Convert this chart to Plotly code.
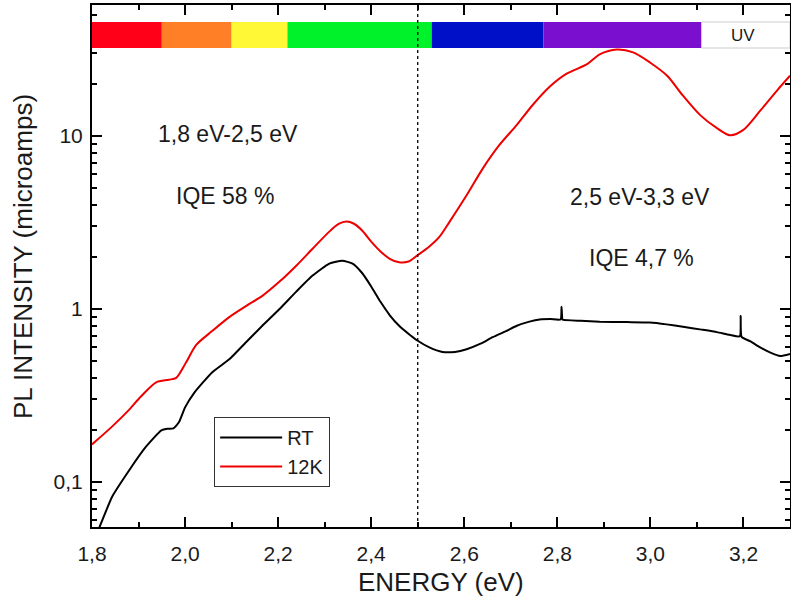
import plotly.graph_objects as go

# ---------------- data ----------------
energy_12k = [1.80, 1.843, 1.88, 1.905, 1.938, 1.965, 1.981, 2.002, 2.024, 2.058, 2.095, 2.131,
              2.166, 2.203, 2.239, 2.274, 2.31, 2.33, 2.347, 2.362, 2.38, 2.40, 2.42, 2.44,
              2.46, 2.48, 2.50, 2.525, 2.547, 2.569, 2.605, 2.64, 2.676, 2.713, 2.747, 2.784,
              2.82, 2.864, 2.891, 2.928, 2.963, 2.999, 3.036, 3.07, 3.107, 3.143, 3.171, 3.199,
              3.236, 3.272, 3.30]
pl_12k = [0.165, 0.209, 0.262, 0.312, 0.377, 0.39, 0.40, 0.49, 0.62, 0.745, 0.898, 1.04,
          1.19, 1.44, 1.78, 2.23, 2.80, 3.1, 3.2, 3.12, 2.85, 2.45, 2.15, 1.95,
          1.86, 1.88, 2.05, 2.3, 2.62, 3.21, 4.54, 6.5, 8.9, 11.6, 15.1, 19.3,
          22.9, 26.0, 29.6, 31.6, 30.4, 26.6, 22.3, 17.1, 13.2, 11.1, 10.1, 10.8,
          14.0, 18.3, 22.3]

energy_rt = [1.80, 1.815, 1.843, 1.88, 1.916, 1.949, 1.962, 1.975, 1.987, 2.0, 2.02, 2.058,
             2.095, 2.131, 2.166, 2.203, 2.239, 2.274, 2.31, 2.338, 2.36, 2.38, 2.40, 2.42,
             2.44, 2.46, 2.48, 2.50, 2.525, 2.553, 2.58, 2.605, 2.635, 2.661, 2.69, 2.713,
             2.74, 2.762, 2.785, 2.807, 2.809, 2.811, 2.813, 2.85, 2.891, 2.95, 2.999, 3.035,
             3.07, 3.11, 3.143, 3.17, 3.192, 3.194, 3.196, 3.215, 3.236, 3.258, 3.279, 3.30]
pl_rt = [0.045, 0.054, 0.082, 0.117, 0.160, 0.199, 0.203, 0.204, 0.222, 0.27, 0.329, 0.43,
         0.512, 0.643, 0.80, 1.0, 1.26, 1.56, 1.83, 1.90, 1.83, 1.62, 1.35, 1.10,
         0.92, 0.80, 0.72, 0.655, 0.60, 0.565, 0.565, 0.585, 0.63, 0.687, 0.745, 0.80,
         0.845, 0.87, 0.875, 0.87, 1.03, 0.87, 0.865, 0.855, 0.845, 0.84, 0.835, 0.815,
         0.79, 0.76, 0.735, 0.71, 0.695, 0.91, 0.69, 0.65, 0.60, 0.56, 0.535, 0.55]

band_edges = [1.80, 1.95, 2.10, 2.22, 2.53, 2.77, 3.11, 3.30]
band_colors = ["#FF0018", "#FF7F27", "#FFF836", "#00F22A", "#0010C8", "#7A0FD0", "#FFFFFF"]
band_labels = ["", "", "", "", "", "", "UV"]

x_ticks = [1.8, 2.0, 2.2, 2.4, 2.6, 2.8, 3.0, 3.2]
y_ticks = [0.1, 1, 10]
y_ticktext = ["0,1", "1", "10"]
y_minor_ticks = [m * 10 ** d for d in (-2, -1, 0, 1) for m in range(2, 10)]

divider_energy = 2.5

# ---------------- figure ----------------
FONT = "Liberation Sans, Arial, sans-serif"
TXT = "#1a1a1a"
fig = go.Figure()
fig.add_trace(go.Scatter(x=energy_rt, y=pl_rt, mode="lines", name="RT",
                         line=dict(color="black", width=2, shape="spline", smoothing=0.5)))
fig.add_trace(go.Scatter(x=energy_12k, y=pl_12k, mode="lines", name="12K",
                         line=dict(color="#EE0000", width=2, shape="spline", smoothing=0.8)))

bar_y0, bar_y1 = 0.9176, 0.9674
for i, col in enumerate(band_colors):
    fig.add_shape(type="rect", xref="x", yref="paper",
                  x0=band_edges[i], x1=band_edges[i + 1], y0=bar_y0, y1=bar_y1,
                  fillcolor=col, line=dict(width=1 if col == "#FFFFFF" else 0, color="#CCCCCC"),
                  layer="above")
    if band_labels[i]:
        fig.add_annotation(x=(band_edges[i] + band_edges[i + 1]) / 2 - 0.006, xref="x",
                           y=(bar_y0 + bar_y1) / 2, yref="paper", text=band_labels[i],
                           showarrow=False, xanchor="center", yanchor="middle",
                           font=dict(family=FONT, size=17, color=TXT))

fig.add_shape(type="line", xref="x", yref="paper", x0=divider_energy, x1=divider_energy,
              y0=0, y1=1, line=dict(color="black", width=1.3, dash="dot"), layer="above")

ann = [("1,8 eV-2,5 eV", 2.092, 0.753), ("IQE 58 %", 2.086, 0.634),
       ("2,5 eV-3,3 eV", 2.977, 0.632), ("IQE 4,7 %", 2.981, 0.515)]
for t, x, y in ann:
    fig.add_annotation(x=x, xref="x", y=y, yref="paper", text=t, showarrow=False,
                       xanchor="center", yanchor="middle",
                       font=dict(family=FONT, size=23, color=TXT))

# axis titles placed as annotations
fig.add_annotation(x=-0.099, xref="paper", y=0.519, yref="paper", text="PL INTENSITY (microamps)",
                   textangle=-90, showarrow=False, xanchor="center", yanchor="middle",
                   font=dict(family=FONT, size=26, color=TXT))
fig.add_annotation(x=0.5, xref="paper", y=-0.105, yref="paper", text="ENERGY (eV)",
                   showarrow=False, xanchor="center", yanchor="middle",
                   font=dict(family=FONT, size=26, color=TXT))

fig.update_layout(
    width=791, height=610,
    margin=dict(l=92, r=1, t=5, b=83),
    paper_bgcolor="white", plot_bgcolor="white",
    separators=",.",
    font=dict(family=FONT, size=21, color=TXT),
    showlegend=True,
    legend=dict(x=0.175, y=0.2107, xanchor="left", yanchor="top",
                bordercolor="#333333", borderwidth=1, bgcolor="white",
                font=dict(family=FONT, size=20, color=TXT),
                itemwidth=62, tracegroupgap=0),
    xaxis=dict(range=[1.8, 3.3], tickvals=x_ticks, tickformat=".1f", automargin=False,
               ticks="inside", ticklen=10, tickwidth=1.5, tickcolor="black",
               ticklabelstandoff=7,
               minor=dict(ticks="inside", ticklen=5, dtick=0.1, tickcolor="black", tickwidth=1.5),
               showline=True, linecolor="black", linewidth=2, mirror="ticks",
               showgrid=False, zeroline=False,
               tickfont=dict(family=FONT, size=21, color=TXT)),
    yaxis=dict(type="log", range=[-1.26, 1.757], tickvals=y_ticks, ticktext=y_ticktext,
               automargin=False, ticklabelstandoff=3,
               ticks="inside", ticklen=10, tickwidth=1.5, tickcolor="black",
               minor=dict(ticks="inside", ticklen=5, tickvals=y_minor_ticks,
                          tickcolor="black", tickwidth=1.5),
               showline=True, linecolor="black", linewidth=2, mirror="ticks",
               showgrid=False, zeroline=False,
               tickfont=dict(family=FONT, size=21, color=TXT)),
)

fig.write_html("out.html", config={"displayModeBar": False},
               post_script="document.body.style.margin='0';")
